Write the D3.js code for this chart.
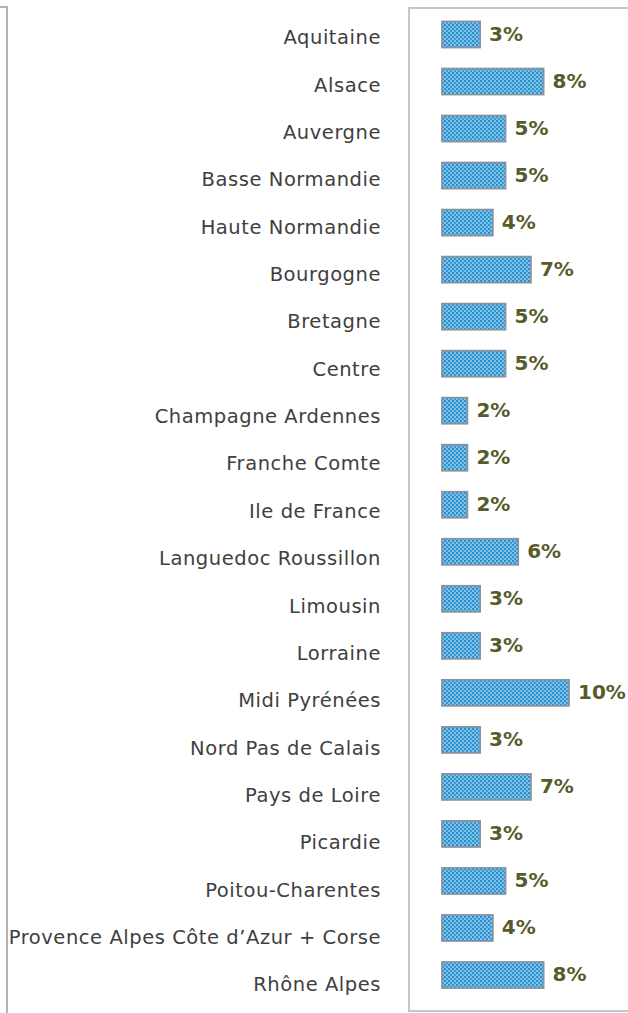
<!DOCTYPE html>
<html>
<head>
<meta charset="utf-8">
<script src="https://cdn.jsdelivr.net/npm/d3@7"></script>
<style>
  html, body { margin: 0; padding: 0; background: #fff; }
  svg { display: block; }
</style>
</head>
<body>
<div id="chart"></div>
<script>
//////////////////////////// data /////////////////////////////////////////

const regions = [
  "Aquitaine", "Alsace", "Auvergne", "Basse Normandie", "Haute Normandie",
  "Bourgogne", "Bretagne", "Centre", "Champagne Ardennes", "Franche Comte",
  "Ile de France", "Languedoc Roussillon", "Limousin", "Lorraine",
  "Midi Pyrénées", "Nord Pas de Calais", "Pays de Loire", "Picardie",
  "Poitou-Charentes", "Provence Alpes Côte d\u2019Azur + Corse", "Rhône Alpes"
];

const shares = [3, 8, 5, 5, 4, 7, 5, 5, 2, 2, 2, 6, 3, 3, 10, 3, 7, 3, 5, 4, 8];

//////////////////////////// set up svg ///////////////////////////////////

const width = 628;
const height = 1013;

const svg = d3.select("#chart").append("svg")
  .attr("width", width)
  .attr("height", height);

// dotted fill like the printed bars
const defs = svg.append("defs");
const pat = defs.append("pattern")
  .attr("id", "dots")
  .attr("patternUnits", "userSpaceOnUse")
  .attr("width", 4)
  .attr("height", 4);
pat.append("rect").attr("width", 4).attr("height", 4).attr("fill", "#7fc2e8");
pat.append("rect").attr("width", 2).attr("height", 2).attr("fill", "#2a8ecd");
pat.append("rect").attr("x", 2).attr("y", 2).attr("width", 2).attr("height", 2).attr("fill", "#3797d2");

//////////////////////////// frames ///////////////////////////////////////

svg.append("line")
  .attr("x1", 7).attr("x2", 7)
  .attr("y1", 6).attr("y2", height)
  .attr("stroke", "#b4b4b4").attr("stroke-width", 2);
svg.append("line")
  .attr("x1", 0).attr("x2", 7)
  .attr("y1", 7).attr("y2", 7)
  .attr("stroke", "#b4b4b4").attr("stroke-width", 2);

// plot box
svg.append("path")
  .attr("d", `M${width + 2},8 H409 V1011 H${width + 2}`)
  .attr("fill", "none")
  .attr("stroke", "#c6c6c6")
  .attr("stroke-width", 2);

//////////////////////////// scales ///////////////////////////////////////

const x0 = 442;
const xScale = d3.scaleLinear().domain([0, 10]).range([0, 127]);

const yScale = d3.scalePoint().domain(regions).range([34.5, 975]);
const yLabel = d3.scalePoint().domain(regions).range([37, 984]);

const barH = 26;

//////////////////////////// axis labels //////////////////////////////////

const yAxis = d3.axisLeft(yLabel).tickSize(0).tickPadding(0);

svg.append("g")
  .attr("class", "yAxis")
  .attr("transform", "translate(381,0)")
  .call(yAxis)
  .call(g => g.select(".domain").remove())
  .selectAll("text")
  .attr("fill", "#404040")
  .attr("dy", "0.35em")
  .style("font-family", "'DejaVu Sans', Verdana, sans-serif")
  .style("font-size", "19.5px")
  .style("letter-spacing", "0.55px");

//////////////////////////// bars /////////////////////////////////////////

const data = regions.map((r, i) => ({ region: r, value: shares[i] }));

svg.selectAll(".bar")
  .data(data)
  .enter()
  .append("rect")
  .attr("class", "bar")
  .attr("x", x0)
  .attr("y", d => yScale(d.region) - barH / 2)
  .attr("width", d => xScale(d.value))
  .attr("height", barH)
  .attr("fill", "url(#dots)")
  .attr("stroke", "#8793a0")
  .attr("stroke-width", 1.8);

svg.selectAll(".val")
  .data(data)
  .enter()
  .append("text")
  .attr("class", "val")
  .attr("x", d => x0 + xScale(d.value) + 9)
  .attr("y", d => yScale(d.region))
  .attr("dy", "0.3em")
  .attr("fill", "#585a2a")
  .style("font-family", "'DejaVu Sans', Verdana, sans-serif")
  .style("font-size", "20px")
  .style("font-weight", "bold")
  .text(d => d.value + "%");
</script>
</body>
</html>
